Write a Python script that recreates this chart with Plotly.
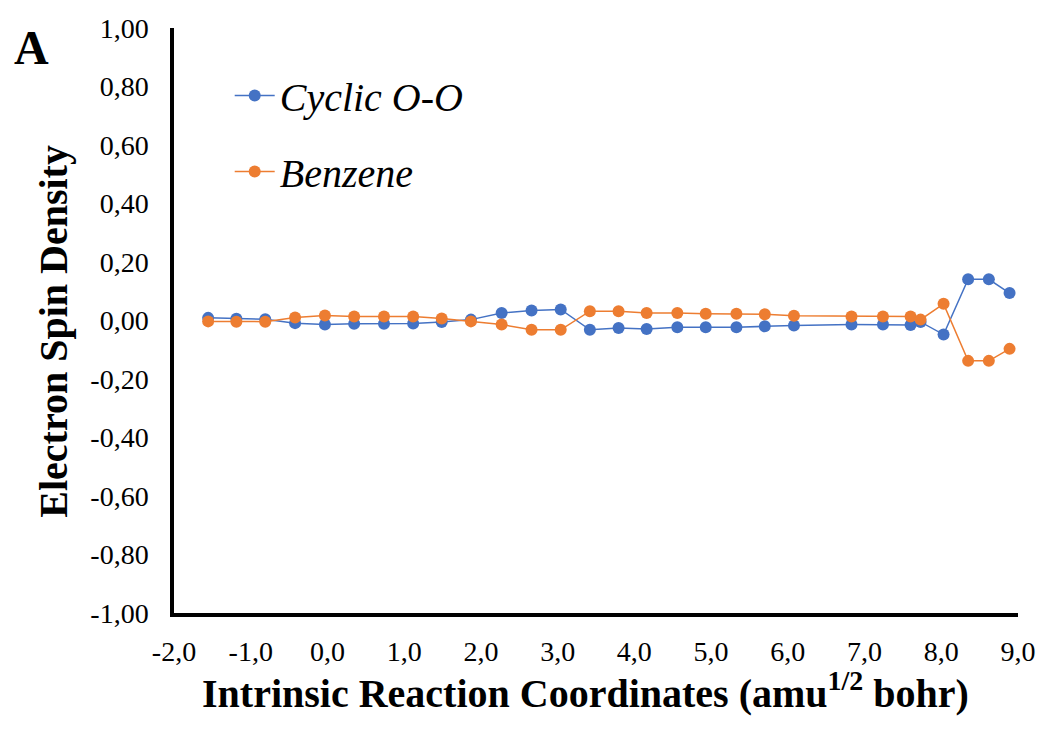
import plotly.graph_objects as go

irc = [-1.555, -1.187, -0.811, -0.422, -0.033, 0.348, 0.737, 1.117, 1.489, 1.870,
       2.270, 2.660, 3.040, 3.420, 3.794, 4.160, 4.560, 4.930, 5.330, 5.700,
       6.080, 6.830, 7.240, 7.600, 7.730, 8.030, 8.350, 8.620, 8.890]
cyclic_oo = [0.009, 0.006, 0.004, -0.009, -0.014, -0.011, -0.011, -0.010, -0.005, 0.003,
             0.026, 0.034, 0.038, -0.032, -0.026, -0.029, -0.023, -0.023, -0.023, -0.020,
             -0.017, -0.014, -0.014, -0.015, -0.005, -0.048, 0.141, 0.141, 0.094]
benzene = [-0.003, -0.004, -0.004, 0.010, 0.017, 0.014, 0.014, 0.014, 0.007, -0.003,
           -0.014, -0.032, -0.032, 0.032, 0.032, 0.026, 0.026, 0.023, 0.023, 0.021,
           0.016, 0.014, 0.014, 0.014, 0.003, 0.057, -0.138, -0.138, -0.097]

x_ticks = [-2, -1, 0, 1, 2, 3, 4, 5, 6, 7, 8, 9]
x_ticktext = ["-2,0", "-1,0", "0,0", "1,0", "2,0", "3,0", "4,0", "5,0", "6,0", "7,0", "8,0", "9,0"]
y_ticks = [1.0, 0.8, 0.6, 0.4, 0.2, 0.0, -0.2, -0.4, -0.6, -0.8, -1.0]
y_ticktext = ["1,00", "0,80", "0,60", "0,40", "0,20", "0,00", "-0,20", "-0,40", "-0,60", "-0,80", "-1,00"]

BLUE = "#4472C4"
ORANGE = "#ED7D31"
SERIF = "Liberation Serif"

# plot area in pixels (for placing the free texts)
L, T, W, H = 174, 28, 849, 585


def px(xp):
    return (xp - L) / W


def py(yp):
    return 1 - (yp - T) / H


fig = go.Figure()
fig.add_trace(go.Scatter(x=irc, y=cyclic_oo, mode="lines+markers", name="Cyclic O-O",
                         legendgroup="a",
                         line=dict(color=BLUE, width=1.5),
                         marker=dict(color=BLUE, size=12)))
fig.add_trace(go.Scatter(x=irc, y=benzene, mode="lines+markers", name="Benzene",
                         legendgroup="b",
                         line=dict(color=ORANGE, width=1.5),
                         marker=dict(color=ORANGE, size=12)))

fig.update_layout(
    width=1048, height=729,
    margin=dict(l=L, r=1048 - L - W, t=T, b=729 - T - H),
    paper_bgcolor="white", plot_bgcolor="white",
    font=dict(family=SERIF, color="black"),
    showlegend=True,
    legend=dict(x=0.066, y=0.94, xanchor="left", yanchor="top",
                font=dict(family=SERIF, size=40, style="italic"),
                bgcolor="rgba(0,0,0,0)", tracegroupgap=21, itemwidth=40),
    xaxis=dict(range=[-2, 9], tickvals=x_ticks, ticktext=x_ticktext,
               showgrid=False, zeroline=False, showline=True, linecolor="black", linewidth=3.5,
               ticks="", tickfont=dict(size=28, family=SERIF), ticklabelstandoff=11),
    yaxis=dict(range=[-1, 1], tickvals=y_ticks, ticktext=y_ticktext,
               showgrid=False, zeroline=False, showline=True, linecolor="black", linewidth=3.5,
               ticks="", tickfont=dict(size=28, family=SERIF), ticklabelstandoff=16),
    annotations=[
        dict(text="<b>A</b>", xref="paper", yref="paper",
             x=px(11), y=py(19), xanchor="left", yanchor="top",
             showarrow=False, font=dict(size=48, family=SERIF)),
        dict(text="<b>Intrinsic Reaction Coordinates (amu<sup>1/2</sup> bohr)</b>",
             xref="paper", yref="paper", x=px(588), y=py(690),
             xanchor="center", yanchor="middle", showarrow=False,
             font=dict(size=40, family=SERIF)),
        dict(text="<b>Electron Spin Density</b>", textangle=-90,
             xref="paper", yref="paper", x=px(52), y=py(331),
             xanchor="center", yanchor="middle", showarrow=False,
             font=dict(size=40, family=SERIF)),
    ],
)

fig.write_html("out.html")
